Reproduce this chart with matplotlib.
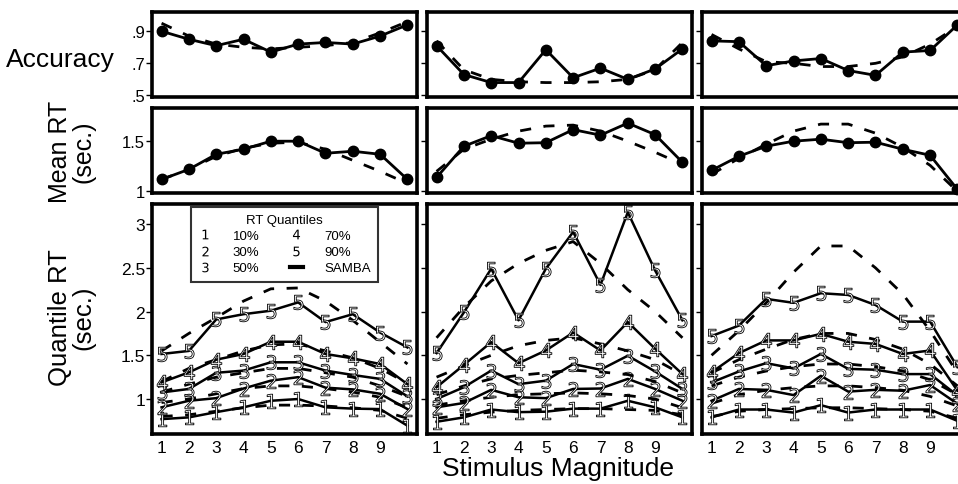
import matplotlib.pyplot as plt
from matplotlib.lines import Line2D

plt.rcParams['font.family'] = ['Liberation Sans', 'DejaVu Sans']

# stimulus magnitude 1..10
stim = [1, 2, 3, 4, 5, 6, 7, 8, 9, 10]
xtick_labels = ['1', '2', '3', '4', '5', '6', '7', '8', '9']

# accuracy: data (dots) and SAMBA (dashed), one list per column
acc_obs = [
    [0.90, 0.85, 0.81, 0.85, 0.77, 0.82, 0.83, 0.82, 0.87, 0.94],
    [0.81, 0.63, 0.58, 0.58, 0.785, 0.61, 0.67, 0.60, 0.665, 0.79],
    [0.84, 0.835, 0.685, 0.715, 0.73, 0.655, 0.625, 0.77, 0.78, 0.94],
]
acc_fit = [
    [0.95, 0.87, 0.82, 0.80, 0.79, 0.80, 0.81, 0.83, 0.89, 0.96],
    [0.84, 0.66, 0.60, 0.585, 0.58, 0.58, 0.585, 0.60, 0.66, 0.83],
    [0.88, 0.79, 0.71, 0.70, 0.68, 0.68, 0.70, 0.74, 0.82, 0.93],
]

# mean RT (sec.)
mrt_obs = [
    [1.12, 1.22, 1.37, 1.42, 1.50, 1.50, 1.38, 1.40, 1.37, 1.12],
    [1.14, 1.45, 1.555, 1.48, 1.485, 1.615, 1.56, 1.68, 1.565, 1.29],
    [1.21, 1.35, 1.45, 1.50, 1.52, 1.485, 1.49, 1.42, 1.36, 1.02],
]
mrt_fit = [
    [1.12, 1.22, 1.35, 1.43, 1.48, 1.49, 1.42, 1.31, 1.20, 1.08],
    [1.20, 1.42, 1.52, 1.60, 1.65, 1.66, 1.60, 1.50, 1.39, 1.27],
    [1.17, 1.33, 1.47, 1.60, 1.67, 1.67, 1.58, 1.44, 1.26, 1.00],
]

# RT quantiles (10, 30, 50, 70, 90%) per column
q_obs_1 = [
    [0.77, 0.79, 0.85, 0.905, 0.98, 1.00, 0.905, 0.89, 0.885, 0.695],
    [0.905, 0.98, 1.01, 1.12, 1.21, 1.25, 1.13, 1.11, 1.06, 0.885],
    [1.075, 1.115, 1.30, 1.325, 1.42, 1.42, 1.325, 1.275, 1.23, 1.03],
    [1.19, 1.305, 1.45, 1.515, 1.655, 1.655, 1.515, 1.465, 1.40, 1.17],
    [1.515, 1.55, 1.91, 1.97, 2.01, 2.105, 1.88, 1.97, 1.76, 1.59],
]
q_fit_1 = [
    [0.80, 0.82, 0.86, 0.90, 0.93, 0.93, 0.92, 0.90, 0.87, 0.78],
    [0.96, 1.00, 1.06, 1.12, 1.15, 1.15, 1.12, 1.08, 1.02, 0.90],
    [1.08, 1.17, 1.25, 1.30, 1.35, 1.35, 1.30, 1.25, 1.15, 1.03],
    [1.20, 1.35, 1.45, 1.55, 1.62, 1.63, 1.55, 1.47, 1.35, 1.18],
    [1.55, 1.75, 1.93, 2.12, 2.26, 2.27, 2.12, 1.90, 1.65, 1.40],
]
q_obs_2 = [
    [0.74, 0.79, 0.88, 0.85, 0.855, 0.89, 0.89, 0.98, 0.905, 0.79],
    [0.905, 0.955, 1.105, 1.02, 1.01, 1.115, 1.12, 1.23, 1.115, 0.98],
    [1.00, 1.135, 1.325, 1.17, 1.21, 1.40, 1.335, 1.495, 1.315, 1.115],
    [1.135, 1.39, 1.65, 1.41, 1.555, 1.76, 1.555, 1.88, 1.575, 1.285],
    [1.525, 1.99, 2.49, 1.90, 2.49, 2.91, 2.305, 3.135, 2.47, 1.90],
]
q_fit_2 = [
    [0.78, 0.82, 0.85, 0.87, 0.88, 0.89, 0.89, 0.88, 0.87, 0.82],
    [0.93, 0.98, 1.02, 1.05, 1.06, 1.07, 1.06, 1.04, 1.00, 0.90],
    [1.05, 1.15, 1.23, 1.27, 1.30, 1.33, 1.31, 1.28, 1.20, 1.07],
    [1.25, 1.38, 1.50, 1.61, 1.67, 1.70, 1.63, 1.55, 1.45, 1.28],
    [1.70, 2.05, 2.35, 2.55, 2.70, 2.80, 2.55, 2.25, 2.00, 1.70],
]
q_obs_3 = [
    [0.79, 0.88, 0.88, 0.845, 0.93, 0.845, 0.88, 0.88, 0.88, 0.75],
    [0.98, 1.115, 1.105, 1.045, 1.265, 1.085, 1.105, 1.095, 1.16, 0.945],
    [1.19, 1.315, 1.41, 1.35, 1.515, 1.345, 1.335, 1.285, 1.285, 1.04],
    [1.305, 1.525, 1.67, 1.67, 1.745, 1.655, 1.63, 1.515, 1.555, 1.095],
    [1.72, 1.84, 2.145, 2.10, 2.21, 2.19, 2.075, 1.885, 1.885, 1.365],
]
q_fit_3 = [
    [0.80, 0.86, 0.88, 0.89, 0.90, 0.90, 0.89, 0.88, 0.86, 0.78],
    [0.95, 1.05, 1.10, 1.13, 1.15, 1.15, 1.13, 1.10, 1.03, 0.92],
    [1.15, 1.25, 1.32, 1.37, 1.40, 1.40, 1.37, 1.32, 1.22, 1.05],
    [1.30, 1.45, 1.57, 1.68, 1.75, 1.75, 1.68, 1.57, 1.40, 1.15],
    [1.50, 1.78, 2.10, 2.45, 2.75, 2.75, 2.50, 2.20, 1.78, 1.30],
]
q_obs = [q_obs_1, q_obs_2, q_obs_3]
q_fit = [q_fit_1, q_fit_2, q_fit_3]

q_digits = ['1', '2', '3', '4', '5']
q_names = ['10%', '30%', '50%', '70%', '90%']

W, H = 958, 485
fig = plt.figure(figsize=(W / 100, H / 100), dpi=100)

col_left = [152, 427, 702]
col_w = 265
rows = [(13, 98), (109, 194), (205, 435)]  # top, bottom in pixels

dash = (4, 4.5)


def make_ax(left, top, bottom):
    ax = fig.add_axes([left / W, 1 - bottom / H, col_w / W, (bottom - top) / H])
    for s in ax.spines.values():
        s.set_linewidth(2.6)
    ax.set_xlim(0.65, 10.35)
    ax.tick_params(axis='y', direction='out', length=4, width=1, labelsize=12, pad=1)
    ax.tick_params(axis='x', length=0, labelsize=12.5, pad=4)
    return ax


for c in range(3):
    # accuracy
    ax = make_ax(col_left[c], *rows[0])
    ax.plot(stim, acc_fit[c], color='k', lw=2, dashes=dash)
    ax.plot(stim, acc_obs[c], color='k', lw=2, marker='o', ms=7.5, clip_on=False)
    ax.set_ylim(0.49, 1.02)
    ax.set_yticks([0.5, 0.7, 0.9])
    ax.set_xticks([])
    if c == 0:
        ax.set_yticklabels(['.5', '.7', '.9'])
    else:
        ax.set_yticklabels([])

    # mean RT
    ax = make_ax(col_left[c], *rows[1])
    ax.plot(stim, mrt_fit[c], color='k', lw=2, dashes=dash)
    ax.plot(stim, mrt_obs[c], color='k', lw=2, marker='o', ms=7.5, clip_on=False)
    ax.set_ylim(0.985, 1.83)
    ax.set_yticks([1, 1.5])
    ax.set_xticks([])
    if c == 0:
        ax.set_yticklabels(['1', '1.5'])
    else:
        ax.set_yticklabels([])

    # quantiles
    ax = make_ax(col_left[c], *rows[2])
    for i in range(5):
        ax.plot(stim, q_fit[c][i], color='k', lw=2, dashes=dash)
        ax.plot(stim, q_obs[c][i], color='k', lw=1.8, marker='$' + q_digits[i] + '$',
                ms=10.5, mfc='white', mec='k', mew=0.6, clip_on=False)
    ax.set_ylim(0.6, 3.23)
    ax.set_yticks([1, 1.5, 2, 2.5, 3])
    ax.set_xticks(stim[:9])
    ax.set_xticklabels(xtick_labels)
    ax.tick_params(axis='y', labelsize=12.5)
    if c == 0:
        ax.set_yticklabels(['1', '1.5', '2', '2.5', '3'])
        handles = [Line2D([], [], ls='none', marker='$' + d + '$', color='k', ms=7, mew=0)
                   for d in q_digits]
        handles.append(Line2D([], [], color='k', lw=3))
        leg = ax.legend(handles, q_names + ['SAMBA'], ncol=2, title='RT Quantiles',
                        loc='upper center', bbox_to_anchor=(0.5, 1.0),
                        fontsize=9.5, title_fontsize=9.5, frameon=True, fancybox=False,
                        handlelength=1.0, handletextpad=1.6, columnspacing=2.3,
                        labelspacing=0.3, borderpad=0.55, borderaxespad=0.2)
        leg.get_frame().set_edgecolor('k')
        leg.get_frame().set_linewidth(1.5)
    else:
        ax.set_yticklabels([])

fig.text(6 / W, 1 - 60 / H, 'Accuracy', fontsize=19, va='center', ha='left')
fig.text(72 / W, 1 - 152 / H, 'Mean RT\n(sec.)', fontsize=18, rotation=90,
         va='center', ha='center', linespacing=0.95)
fig.text(72 / W, 1 - 318 / H, 'Quantile RT\n(sec.)', fontsize=18.5, rotation=90,
         va='center', ha='center', linespacing=0.95)
fig.text(558 / W, 1 - 469 / H, 'Stimulus Magnitude', fontsize=19, va='center', ha='center')

fig.savefig('out.png', dpi=100)
